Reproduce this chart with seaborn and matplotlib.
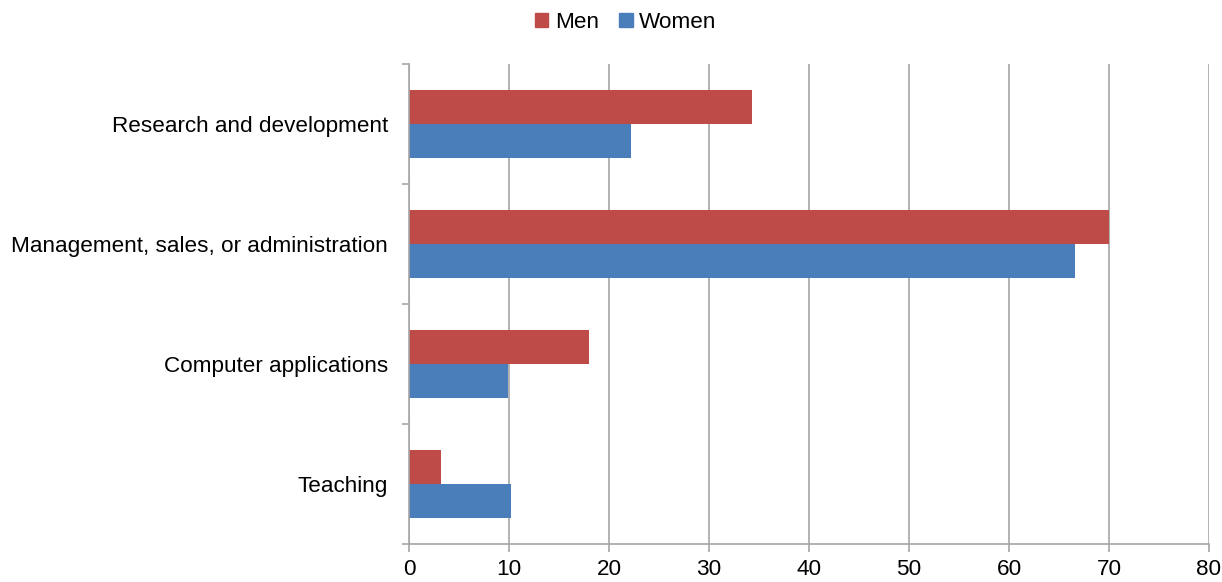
import numpy as np
import pandas as pd
import matplotlib.pyplot as plt
import seaborn as sns

categories = ["Research and development", "Management, sales, or administration",
              "Computer applications", "Teaching"]
men = [34.3, 70.0, 18.0, 3.2]
women = [22.2, 66.6, 9.9, 10.2]
x_ticks = [0, 10, 20, 30, 40, 50, 60, 70, 80]

df = pd.DataFrame({
    "category": categories * 2,
    "value": men + women,
    "sex": ["Men"] * len(categories) + ["Women"] * len(categories),
})

sns.set_style("white")
plt.rcParams["font.family"] = ["Liberation Sans", "DejaVu Sans"]
plt.rcParams["text.color"] = "black"
plt.rcParams["xtick.labelcolor"] = "black"
plt.rcParams["ytick.labelcolor"] = "black"

fig = plt.figure(figsize=(12.22, 5.82), dpi=100)
ax = fig.add_axes([409 / 1222, 1 - 544 / 582, 800 / 1222, 480 / 582])

palette = {"Men": "#BE4B48", "Women": "#4A7EBB"}
sns.barplot(data=df, y="category", x="value", hue="sex", order=categories,
            hue_order=["Men", "Women"], palette=palette, width=0.567, gap=0,
            orient="h", saturation=1, linewidth=0, ax=ax, legend=False)

grid_c = "#A6A6A6"
fs = 16.2
ax.set_xlim(0, 80)
ax.set_ylim(3.5, -0.5)
ax.set_xticks(x_ticks)
ax.set_xticklabels([str(t) for t in x_ticks], fontsize=fs)
ax.xaxis.grid(True, color=grid_c, linewidth=1.2)
ax.yaxis.grid(False)
ax.set_axisbelow(True)

ax.set_yticks(range(len(categories)))
ax.set_yticklabels(categories, fontsize=fs)
ax.tick_params(axis="y", length=0, pad=15)
ax.set_yticks(np.arange(-0.5, len(categories), 1), minor=True)
ax.tick_params(axis="y", which="minor", length=5, color=grid_c, width=1.2, direction="out", left=True)
ax.tick_params(axis="x", length=6, color=grid_c, width=1.2, direction="out", bottom=True, pad=5)

for s in ["top", "right"]:
    ax.spines[s].set_visible(False)
for s in ["left", "bottom"]:
    ax.spines[s].set_color(grid_c)
    ax.spines[s].set_linewidth(1.2)
ax.set_xlabel("")
ax.set_ylabel("")

handles = [plt.Rectangle((0, 0), 1, 1, color=palette[k]) for k in ["Men", "Women"]]
fig.legend(handles, ["Men", "Women"], loc="center", bbox_to_anchor=(0.512, 0.962),
           ncol=2, frameon=False, fontsize=fs, handlelength=0.6, handleheight=0.6,
           handletextpad=0.3, columnspacing=0.9)

fig.savefig("out.png", dpi=100)
